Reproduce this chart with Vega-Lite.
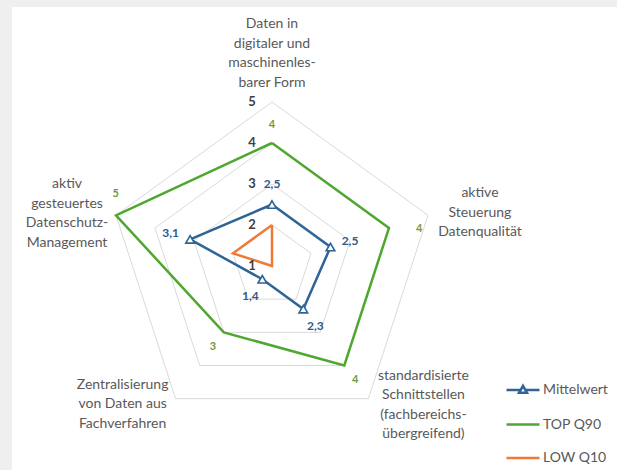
{
  "$schema": "https://vega.github.io/schema/vega-lite/v6.json",
  "width": 605,
  "height": 463,
  "autosize": {"type": "none"},
  "padding": {"left": 12, "top": 7, "right": 0, "bottom": 0},
  "background": "#efefef",
  "view": {"fill": "white", "stroke": null},
  "config": {
    "font": "Lato",
    "locale": {"number": {"decimal": ",", "thousands": ".", "grouping": [3], "currency": ["", " €"]}},
    "legend": {
      "orient": "none",
      "legendX": 493,
      "legendY": 365,
      "title": null,
      "padding": 0,
      "symbolSize": 1089,
      "symbolStrokeWidth": 2.5,
      "rowPadding": 8.5,
      "labelFont": "Lato",
      "labelFontSize": 14,
      "labelColor": "#595959",
      "labelOffset": 2
    }
  },
  "datasets": {
    "series": [
      {"series": "Mittelwert", "k": 0, "value": 2.5},
      {"series": "Mittelwert", "k": 1, "value": 2.5},
      {"series": "Mittelwert", "k": 2, "value": 2.3},
      {"series": "Mittelwert", "k": 3, "value": 1.4},
      {"series": "Mittelwert", "k": 4, "value": 3.1},
      {"series": "Mittelwert", "k": 5, "value": 2.5},
      {"series": "TOP Q90", "k": 0, "value": 4},
      {"series": "TOP Q90", "k": 1, "value": 4},
      {"series": "TOP Q90", "k": 2, "value": 4},
      {"series": "TOP Q90", "k": 3, "value": 3},
      {"series": "TOP Q90", "k": 4, "value": 5},
      {"series": "TOP Q90", "k": 5, "value": 4},
      {"series": "LOW Q10", "k": 0, "value": 2},
      {"series": "LOW Q10", "k": 1, "value": 1},
      {"series": "LOW Q10", "k": 2, "value": 1},
      {"series": "LOW Q10", "k": 3, "value": 1},
      {"series": "LOW Q10", "k": 4, "value": 2},
      {"series": "LOW Q10", "k": 5, "value": 2}
    ],
    "grid": [
      {"value": 2, "k": 0}, {"value": 2, "k": 1}, {"value": 2, "k": 2}, {"value": 2, "k": 3}, {"value": 2, "k": 4}, {"value": 2, "k": 5},
      {"value": 3, "k": 0}, {"value": 3, "k": 1}, {"value": 3, "k": 2}, {"value": 3, "k": 3}, {"value": 3, "k": 4}, {"value": 3, "k": 5},
      {"value": 4, "k": 0}, {"value": 4, "k": 1}, {"value": 4, "k": 2}, {"value": 4, "k": 3}, {"value": 4, "k": 4}, {"value": 4, "k": 5},
      {"value": 5, "k": 0}, {"value": 5, "k": 1}, {"value": 5, "k": 2}, {"value": 5, "k": 3}, {"value": 5, "k": 4}, {"value": 5, "k": 5}
    ],
    "ticks": [
      {"value": 1, "k": 0}, {"value": 2, "k": 0}, {"value": 3, "k": 0}, {"value": 4, "k": 0}, {"value": 5, "k": 0}
    ],
    "categories": [
      {"k": 0, "value": 5, "lines": ["Daten in", "digitaler und", "maschinenles-", "barer Form"]},
      {"k": 1, "value": 5, "lines": ["aktive", "Steuerung", "Datenqualität"]},
      {"k": 2, "value": 5, "lines": ["standardisierte", "Schnittstellen", "(fachbereichs-", "übergreifend)"]},
      {"k": 3, "value": 5, "lines": ["Zentralisierung", "von Daten aus", "Fachverfahren"]},
      {"k": 4, "value": 5, "lines": ["aktiv", "gesteuertes", "Datenschutz-", "Management"]}
    ]
  },
  "encoding": {
    "x": {"field": "px", "type": "quantitative", "scale": {"domain": [-6.3415, 8.4146], "nice": false, "zero": false}, "axis": null},
    "y": {"field": "py", "type": "quantitative", "scale": {"domain": [-4.9756, 6.3171], "nice": false, "zero": false}, "axis": null}
  },
  "layer": [
    {
      "data": {"name": "grid"},
      "transform": [
        {"calculate": "datum.k * 2 * PI / 5", "as": "theta"},
        {"calculate": "(datum.value - 1) * sin(datum.theta)", "as": "px"},
        {"calculate": "(datum.value - 1) * cos(datum.theta)", "as": "py"}
      ],
      "mark": {"type": "line", "stroke": "#d9d9d9", "strokeWidth": 1},
      "encoding": {
        "detail": {"field": "value", "type": "nominal"},
        "order": {"field": "k", "type": "quantitative"}
      }
    },
    {
      "data": {"name": "series"},
      "transform": [
        {"calculate": "datum.k * 2 * PI / 5", "as": "theta"},
        {"calculate": "(datum.value - 1) * sin(datum.theta)", "as": "px"},
        {"calculate": "(datum.value - 1) * cos(datum.theta)", "as": "py"}
      ],
      "mark": {"type": "line", "strokeWidth": 2.5, "strokeJoin": "miter"},
      "encoding": {
        "color": {
          "field": "series",
          "type": "nominal",
          "scale": {"domain": ["Mittelwert", "TOP Q90", "LOW Q10"], "range": ["#2e6496", "#4ea72e", "#f07a35"]},
          "legend": {
            "encode": {
              "symbols": {
                "update": {
                  "shape": {"signal": "datum.value === 'Mittelwert' ? 'M-1,0L-0.14,0M0.14,0L1,0M0,-0.25L0.24,0.17L-0.24,0.17Z' : 'M-1,0L1,0'"},
                  "fill": {"signal": "datum.value === 'Mittelwert' ? 'white' : 'transparent'"},
                  "strokeWidth": {"value": 2.5}
                }
              }
            }
          }
        },
        "order": {"field": "k", "type": "quantitative"}
      }
    },
    {
      "data": {"name": "series"},
      "transform": [
        {"filter": "datum.series === 'Mittelwert' && datum.k < 5"},
        {"calculate": "datum.k * 2 * PI / 5", "as": "theta"},
        {"calculate": "(datum.value - 1) * sin(datum.theta)", "as": "px"},
        {"calculate": "(datum.value - 1) * cos(datum.theta)", "as": "py"}
      ],
      "mark": {"type": "point", "shape": "triangle-up", "filled": true, "fill": "white", "stroke": "#2e6496", "strokeWidth": 1.6, "size": 75, "opacity": 1}
    },
    {
      "data": {"name": "series"},
      "transform": [
        {"filter": "datum.series === 'Mittelwert' && datum.k < 5"},
        {"calculate": "datum.k * 2 * PI / 5", "as": "theta"},
        {"calculate": "(datum.value - 1 + 0.5) * sin(datum.theta)", "as": "px"},
        {"calculate": "(datum.value - 1 + 0.5) * cos(datum.theta)", "as": "py"}
      ],
      "mark": {"type": "text", "fontWeight": "bold", "fontSize": 12, "color": "#2e5a8c", "baseline": "middle"},
      "encoding": {"text": {"field": "value", "type": "quantitative", "format": ".1f"}}
    },
    {
      "data": {"name": "series"},
      "transform": [
        {"filter": "datum.series === 'TOP Q90' && datum.k < 5"},
        {"calculate": "datum.k * 2 * PI / 5 + (datum.k === 4 ? 0.12 : datum.k === 1 ? 0.07 : 0)", "as": "theta"},
        {"calculate": "(datum.value - 1 + (datum.k === 4 ? 0.2 : datum.k === 1 ? 0.7 : 0.45)) * sin(datum.theta)", "as": "px"},
        {"calculate": "(datum.value - 1 + (datum.k === 4 ? 0.2 : datum.k === 1 ? 0.7 : 0.45)) * cos(datum.theta)", "as": "py"}
      ],
      "mark": {"type": "text", "fontWeight": "bold", "fontSize": 11, "color": "#6f9a3c", "baseline": "middle"},
      "encoding": {"text": {"field": "value", "type": "quantitative", "format": "d"}}
    },
    {
      "data": {"name": "ticks"},
      "transform": [
        {"calculate": "0", "as": "px"},
        {"calculate": "datum.value - 1", "as": "py"}
      ],
      "mark": {"type": "text", "fontWeight": "bold", "fontSize": 13, "color": "#404040", "baseline": "middle", "dx": -20},
      "encoding": {"text": {"field": "value", "type": "quantitative", "format": "d"}}
    },
    {
      "data": {"name": "categories"},
      "transform": [
        {"filter": "datum.k === 0"},
        {"calculate": "(datum.value - 1) * sin(datum.k * 2 * PI / 5)", "as": "px"},
        {"calculate": "(datum.value - 1) * cos(datum.k * 2 * PI / 5)", "as": "py"}
      ],
      "mark": {"type": "text", "fontSize": 14, "color": "#595959", "align": "center", "baseline": "middle", "lineHeight": 19.5, "dy": -78},
      "encoding": {"text": {"field": "lines"}}
    },
    {
      "data": {"name": "categories"},
      "transform": [
        {"filter": "datum.k === 1"},
        {"calculate": "(datum.value - 1) * sin(datum.k * 2 * PI / 5)", "as": "px"},
        {"calculate": "(datum.value - 1) * cos(datum.k * 2 * PI / 5)", "as": "py"}
      ],
      "mark": {"type": "text", "fontSize": 14, "color": "#595959", "align": "center", "baseline": "middle", "lineHeight": 19.5, "dx": 52, "dy": -22},
      "encoding": {"text": {"field": "lines"}}
    },
    {
      "data": {"name": "categories"},
      "transform": [
        {"filter": "datum.k === 2"},
        {"calculate": "(datum.value - 1) * sin(datum.k * 2 * PI / 5)", "as": "px"},
        {"calculate": "(datum.value - 1) * cos(datum.k * 2 * PI / 5)", "as": "py"}
      ],
      "mark": {"type": "text", "fontSize": 14, "color": "#595959", "align": "center", "baseline": "middle", "lineHeight": 19.5, "dx": 55, "dy": -23},
      "encoding": {"text": {"field": "lines"}}
    },
    {
      "data": {"name": "categories"},
      "transform": [
        {"filter": "datum.k === 3"},
        {"calculate": "(datum.value - 1) * sin(datum.k * 2 * PI / 5)", "as": "px"},
        {"calculate": "(datum.value - 1) * cos(datum.k * 2 * PI / 5)", "as": "py"}
      ],
      "mark": {"type": "text", "fontSize": 14, "color": "#595959", "align": "center", "baseline": "middle", "lineHeight": 19.5, "dx": -53, "dy": -14},
      "encoding": {"text": {"field": "lines"}}
    },
    {
      "data": {"name": "categories"},
      "transform": [
        {"filter": "datum.k === 4"},
        {"calculate": "(datum.value - 1) * sin(datum.k * 2 * PI / 5)", "as": "px"},
        {"calculate": "(datum.value - 1) * cos(datum.k * 2 * PI / 5)", "as": "py"}
      ],
      "mark": {"type": "text", "fontSize": 14, "color": "#595959", "align": "center", "baseline": "middle", "lineHeight": 19.5, "dx": -49, "dy": -31},
      "encoding": {"text": {"field": "lines"}}
    }
  ]
}
